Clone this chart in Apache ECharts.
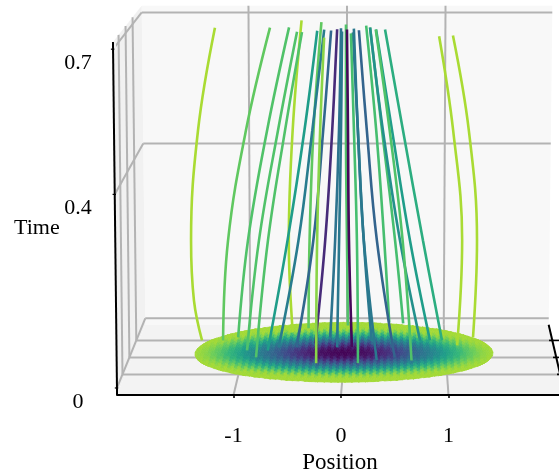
<!DOCTYPE html>
<html><head><meta charset="utf-8">
<style>html,body{margin:0;padding:0;background:#fff}#c{width:559px;height:476px}</style>
<script src="https://cdn.jsdelivr.net/npm/echarts@6/dist/echarts.min.js"></script>
</head><body><div id="c"></div>
<script>
// ---- tick labels and box limits (data units) ----
const positionTicks = [-1, 0, 1];
const timeTicks = [0, 0.4, 0.7];
const depthTicks = [-1, 0, 1];
const positionRange = [-2.084, 2.084];
const depthRange = [-1.8, 2.3];
const timeRange = [-0.0145, 0.715];

// ---- trajectories ----
const lineNames = ['L1','L2','L3','L4','L5','L6','L7','L8','L9','L10','L11','L12','L13','L14','L15','G2','G1','R1','R1b','R2','G3','G6','T1','G5','T2','T3','Y1','Y2'];
const lineDepth = [1,1,1.18,.41,0,1.47,.41,.59,1.71,-.35,.59,.82,1.18,.59,.59,1.88,-.35,-.18,1,0,2.06,2,1,-.18,1,1,.71,1.18];
const lineColorValue = [.87,.75,.72,.72,.72,.87,.55,.42,.75,.82,.33,.12,.38,.4,.02,.72,.7,.4,.4,.32,.7,.7,.5,.72,.55,.62,.87,.87];
const linePosition = [
 [-1.428,-1.505,-1.529,-1.451,-1.277],[-1.218,-1.162,-.978,-.737],[-1.075,-.971,-.776,-.555],[-.955,-.833,-.644,-.456],[-.852,-.731,-.563,-.398],
 [-.536,-.573,-.531,-.439],[-.752,-.554,-.387,-.261],[-.65,-.452,-.314,-.197],[-.382,-.37,-.328,-.247],[-.26,-.249,-.219,-.18],
 [-.474,-.306,-.208,-.13],[-.293,-.194,-.124,-.075],[-.152,-.102,-.063,-.043],[-.073,-.053,-.034,-.024],[.073,.044,.034,.024],
 [.016,.006,-.004,-.004],[.143,.132,.103,.074],[.323,.197,.139,.091],[.265,.185,.126,.086],[.497,.321,.223,.146],
 [.437,.384,.3,.197],[.58,.495,.36,.237],[.748,.545,.373,.245],[.66,.57,.443,.308],[.847,.644,.463,.304],[.967,.773,.571,.392],
 [1.114,1.157,1.062,.92],[1.28,1.313,1.224,1.061]
];
const lineTime = [
 [0,.088,.221,.465,.692],[0,.221,.465,.692],[0,.216,.46,.689],[0,.24,.479,.695],[0,.253,.49,.702],
 [0,.206,.452,.699],[0,.24,.479,.697],[0,.234,.475,.696],[0,.198,.446,.69],[0,.263,.498,.697],
 [0,.234,.475,.694],[0,.227,.469,.692],[0,.216,.46,.687],[0,.234,.475,.692],[0,.234,.475,.696],
 [0,.192,.441,.681],[0,.263,.498,.706],[0,.258,.494,.705],[0,.221,.465,.69],[0,.253,.49,.706],
 [0,.186,.437,.675],[0,.188,.438,.672],[0,.221,.465,.692],[0,.258,.494,.711],[0,.221,.465,.688],[0,.221,.465,.688],
 [0,.231,.472,.679],[0,.216,.46,.671]
];

// ---- disk at t = 0: colour value by radius ----
const diskRadius = [0,.15,.3,.45,.6,.75,.9,1.05,1.2,1.35,1.46];
const diskValue  = [0,.02,.06,.14,.25,.36,.47,.6,.72,.82,.86];
const diskCenterDepth = .3, diskRadiusX = 1.46, diskRadiusDepth = 1.76;
const viridis = ['#440154','#482878','#3e4989','#31688e','#26828e','#1f9e89','#35b779','#6ece58','#b5de2b','#fde725'];

// ---- view: front-plane axes are the chart's axes ----
function project(x, y, t) {
  const v = (y - depthRange[0]) / (depthRange[1] - depthRange[0]);
  const xs = (1 - 0.0995 * v) * (1 + 0.025 * t);
  const ts = 1 - 0.097 * v;
  return [0.0558 * v + x * xs, 0.0351 * (y - depthRange[0]) + t * ts];
}
const col = f => echarts.color.lerp(Math.min(1, f), viridis);
function diskVal(r) {
  for (let i = 1; i < diskRadius.length; i++) if (r <= diskRadius[i]) {
    const a = (r - diskRadius[i-1]) / (diskRadius[i] - diskRadius[i-1]);
    return diskValue[i-1] + a * (diskValue[i] - diskValue[i-1]);
  }
  return diskValue[diskValue.length - 1];
}
const [xL, xR] = positionRange, [yF, yB] = depthRange, [tB, tT] = timeRange;
const serif = 'Liberation Serif';
const seg = (a, b, color, width, z) => ({
  type: 'line', data: [a, b], showSymbol: false, silent: true, animation: false, clip: false, z: z || 1,
  lineStyle: {color, width}
});
const grey = '#b3b3b3';
const walls = [
  {c:'#f8f8f8', p:[project(xL,yB,tB),project(xR,yB,tB),project(xR,yB,tT),project(xL,yB,tT)]},
  {c:'#f1f1f1', p:[project(xL,yF,tB),project(xL,yB,tB),project(xL,yB,tT),project(xL,yF,tT)]},
  {c:'#f3f3f3', p:[project(xL,yF,tB),project(xR,yF,tB),project(xR,yB,tB),project(xL,yB,tB)]}
];
const series = [];
series.push({type:'custom', silent:true, animation:false, z:0, data:walls.map((w,i)=>[i]),
  renderItem:(p,api)=>{const w=walls[api.value(0)];
    return {type:'polygon',shape:{points:w.p.map(q=>api.coord(q))},style:{fill:w.c}};}});
// back wall grid
timeTicks.forEach(t=>series.push(seg(project(xL,yB,t),project(xR,yB,t),grey,2)));
positionTicks.forEach(x=>series.push(seg(project(x,yB,tB),project(x,yB,tT),grey,2)));
// left wall grid
timeTicks.filter(t=>t>0).forEach(t=>series.push(seg(project(xL,yF,t),project(xL,yB,t),grey,2)));
depthTicks.forEach(y=>series.push(seg(project(xL,y,0),project(xL,y,tT),grey,2)));
series.push(seg(project(xL,yF,0),project(xL,yB,0),grey,2));
// floor grid
depthTicks.forEach(y=>series.push(seg(project(xL,y,0),project(xR,y,0),grey,2)));
positionTicks.forEach(x=>series.push(seg(project(x,yF,tB),project(x,yB,tB),grey,2)));

// disk mesh
const cols = 90, rows = 18, tris = [];
const vert = (i,j) => [-1 + 2*i/cols, -1 + 2*(j + (i%2)*0.5)/rows];
const clampV = ([u,w]) => { const r=Math.hypot(u,w); return r>1?[u/r,w/r]:[u,w]; };
const to3 = ([u,w]) => project(u*diskRadiusX, diskCenterDepth + w*diskRadiusDepth, 0);
function addTri(a,b,c,i){
  const cu=(a[0]+b[0]+c[0])/3, cw=(a[1]+b[1]+c[1])/3, r=Math.hypot(cu,cw);
  if (r>1.03) return;
  const shade = Math.hypot(cu, 1.22*(cw + (i%2 ? 0.04 : -0.04)));
  tris.push({p:[to3(clampV(a)),to3(clampV(b)),to3(clampV(c))], c:col(diskVal(shade*diskRadiusX))});
}
for (let i=0;i<cols;i++) for (let j=-1;j<=rows+1;j++){
  const a=vert(i,j), a2=vert(i,j+1), b=vert(i+1,j), b2=vert(i+1,j+1);
  if (i%2===0){ addTri(a,a2,b,i); addTri(a2,b,b2,i); }
  else { addTri(a,b,b2,i); addTri(a,a2,b2,i); }
}
series.push({type:'custom', silent:true, animation:false, progressive:0, z:3, data:tris.map((t,i)=>[i]),
  renderItem:(p,api)=>{const t=tris[api.value(0)];
    return {type:'polygon',shape:{points:t.p.map(q=>api.coord(q))},style:{fill:t.c,stroke:t.c,lineWidth:0.7}};}});

// trajectories, back to front
lineNames.map((n,i)=>i).sort((a,b)=>lineDepth[b]-lineDepth[a]).forEach(i=>{
  series.push({type:'line', name:lineNames[i], smooth:0.4, showSymbol:false, silent:true, animation:false, clip:false, z:4,
    data:linePosition[i].map((x,k)=>project(x,lineDepth[i],lineTime[i][k])),
    lineStyle:{color:col(lineColorValue[i]),width:2.6,cap:'butt'}});
});

// black axes drawn in the view
const blackSegs = [];
const addBlack = (a,b,w) => blackSegs.push({a,b,w});
addBlack(project(xL,yF,tB),project(xL,yF,tT),2);
timeTicks.forEach(t=>{const p=project(xL,yF,t);addBlack([p[0]-0.02,p[1]],[p[0]+0.012,p[1]],1.2);});
addBlack(project(xR,yB,tB),project(xR,yF,tB),2);
depthTicks.forEach(y=>{const p=project(xR,y,0);addBlack([p[0]-0.045,p[1]],[p[0]+0.06,p[1]],1.6);});
series.push({type:'custom', silent:true, animation:false, z:6, data:blackSegs.map((s,i)=>[i]),
  renderItem:(p,api)=>{const s=blackSegs[api.value(0)];
    const a=api.coord(s.a), b=api.coord(s.b);
    return {type:'line',shape:{x1:a[0],y1:a[1],x2:b[0],y2:b[1]},style:{stroke:'#000',lineWidth:s.w,fill:null}};}});

const chart = echarts.init(document.getElementById('c'), null, {renderer:'canvas'});
chart.setOption({
  animation:false, backgroundColor:'#fff',
  grid:{left:117, right:0, top:0, bottom:81, outerBoundsMode:'none'},
  graphic:[{type:'text', left:14, top:217, z:10, style:{text:'Time', fontFamily:serif, fontSize:22, fill:'#000'}}],
  xAxis:{type:'value', min:(117-341)/107.5, max:(559-341)/107.5, z:10,
    name:'Position', nameLocation:'middle', nameGap:55,
    nameTextStyle:{fontFamily:serif,fontSize:23,color:'#000',padding:[0,0,0,4]},
    axisLine:{show:true,onZero:false,lineStyle:{color:'#000',width:2}},
    axisTick:{show:true,length:3,inside:false,customValues:positionTicks,lineStyle:{color:'#000',width:1.5}},
    axisLabel:{margin:30,fontFamily:serif,fontSize:22,color:'#000',customValues:positionTicks},
    splitLine:{show:false}},
  yAxis:{type:'value', min:-0.0145, max:-0.0145+395/484,
    axisLine:{show:false}, axisTick:{show:false},
    axisLabel:{margin:39,align:'center',verticalAlign:'top',padding:[3,0,0,0],fontFamily:serif,fontSize:22,color:'#000',customValues:timeTicks},
    splitLine:{show:false}},
  series
});
</script></body></html>
